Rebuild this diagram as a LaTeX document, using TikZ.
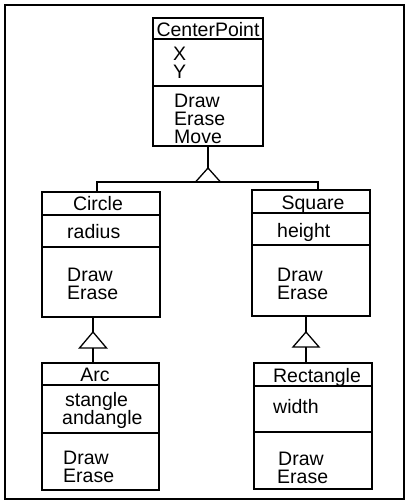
\documentclass[tikz,border=0pt]{standalone}
\usepackage{fontspec}
\setmainfont{Liberation Sans}
\begin{document}
\begin{tikzpicture}[x=1pt,y=-1pt,
  cls/.style={draw, line width=1.3pt, inner sep=0pt, outer sep=0pt},
  ln/.style={line width=1.3pt},
  txt/.style={inner sep=0pt, anchor=base west, text height=12pt, text depth=2pt, font=\fontsize{19.5}{18}\selectfont},
  ttl/.style={inner sep=0pt, anchor=base, text height=12pt, text depth=2pt, font=\fontsize{19.5}{18}\selectfont},
  tri/.style={line width=1.3pt, line join=miter}]
\useasboundingbox (0,0) rectangle (409,504);
% outer frame
\node[cls, minimum width=399pt, minimum height=494pt] (frame) at (204.5,252) {};

% ---------- CenterPoint ----------
\node[cls, minimum width=110pt, minimum height=128pt] (cp) at (208,82) {};
\draw[ln] (cp.west |- 0,39) -- (cp.east |- 0,39);
\draw[ln] (cp.west |- 0,86) -- (cp.east |- 0,86);
\node[ttl] (cpt) at (208,36) {CenterPoint};
\node[txt] (cpx) at (173,60) {X};
\node[txt] (cpy) at (173,78) {Y};
\node[txt] (cpd) at (174,107) {Draw};
\node[txt] (cpe) at (174,125) {Erase};
\node[txt] (cpm) at (174,143) {Move};

% ---------- Circle ----------
\node[cls, minimum width=118pt, minimum height=125pt] (ci) at (101,254.5) {};
\draw[ln] (ci.west |- 0,215) -- (ci.east |- 0,215);
\draw[ln] (ci.west |- 0,247) -- (ci.east |- 0,247);
\node[ttl] (cit) at (98,210) {Circle};
\node[txt] (cir) at (67,238) {radius};
\node[txt] (cid) at (67,281) {Draw};
\node[txt] (cie) at (67,299) {Erase};

% ---------- Square ----------
\node[cls, minimum width=118pt, minimum height=126pt] (sq) at (311,253) {};
\draw[ln] (sq.west |- 0,213) -- (sq.east |- 0,213);
\draw[ln] (sq.west |- 0,245) -- (sq.east |- 0,245);
\node[ttl] (sqt) at (313,209) {Square};
\node[txt] (sqh) at (277,237) {height};
\node[txt] (sqd) at (277,281) {Draw};
\node[txt] (sqe) at (277,299) {Erase};

% ---------- Arc ----------
\node[cls, minimum width=117pt, minimum height=127pt] (ar) at (100.5,426.5) {};
\draw[ln] (ar.west |- 0,385) -- (ar.east |- 0,385);
\draw[ln] (ar.west |- 0,433) -- (ar.east |- 0,433);
\node[ttl] (art) at (95,381) {Arc};
\node[txt] (ars) at (65,406) {stangle};
\node[txt] (ara) at (62,424) {andangle};
\node[txt] (ard) at (63,464) {Draw};
\node[txt] (are) at (63,482) {Erase};

% ---------- Rectangle ----------
\node[cls, minimum width=118pt, minimum height=126pt] (re) at (313,426) {};
\draw[ln] (re.west |- 0,386) -- (re.east |- 0,386);
\draw[ln] (re.west |- 0,432) -- (re.east |- 0,432);
\node[ttl] (ret) at (317,382) {Rectangle};
\node[txt] (rew) at (273,413) {width};
\node[txt] (red) at (278,465) {Draw};
\node[txt] (ree) at (277,483) {Erase};

% ---------- inheritance: CenterPoint -> Circle, Square ----------
\coordinate (t0) at (cp.south |- 0,168);
\coordinate (j1) at (97,182);
\coordinate (j2) at (318,182);
\draw[ln] (cp.south) -- (t0);
\draw[tri] (t0) -- ++(-12.5,14) -- ++(25,0) -- cycle;
\draw[ln] (ci.north -| j1) -- (j1) -- (j2) -- (sq.north -| j2);

% ---------- Circle -> Arc ----------
\coordinate (t1) at (93,332);
\coordinate (b1) at (93,348);
\draw[ln] (ci.south -| t1) -- (t1);
\draw[tri] (t1) -- ++(-13.5,16) -- ++(27,0) -- cycle;
\draw[ln] (b1) -- (ar.north -| b1);

% ---------- Square -> Rectangle ----------
\coordinate (t2) at (306,332);
\coordinate (b2) at (306,347);
\draw[ln] (sq.south -| t2) -- (t2);
\draw[tri] (t2) -- ++(-13,15) -- ++(26,0) -- cycle;
\draw[ln] (b2) -- (re.north -| b2);
\end{tikzpicture}
\end{document}
